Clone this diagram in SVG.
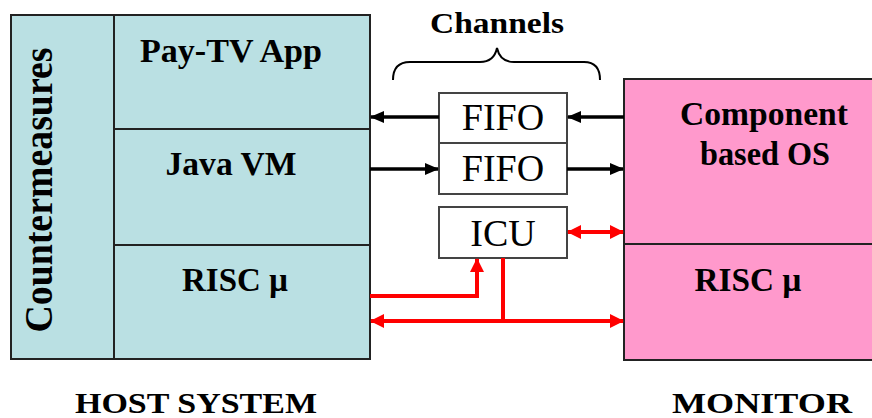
<svg xmlns="http://www.w3.org/2000/svg" width="872" height="418" viewBox="0 0 872 418">
<style>
.b{font-family:"Liberation Serif","Times New Roman",serif;font-weight:bold;fill:#000}
.r{font-family:"Liberation Serif","Times New Roman",serif;fill:#000}
.host{fill:#BAE0E3;stroke:#222;stroke-width:2}
.mon{fill:#FF99CC;stroke:#222;stroke-width:2}
.ch{fill:#fff;stroke:#444;stroke-width:2}
.bk{stroke:#000;stroke-width:3.5;fill:none}
.rd{stroke:#f00;stroke-width:4;fill:none}
</style>
<defs>
<marker id="ab" markerUnits="userSpaceOnUse" markerWidth="14" markerHeight="12" refX="13" refY="6" orient="auto-start-reverse"><path d="M0,0 L14,6 L0,12 Z" fill="#000"/></marker>
<marker id="ar" markerUnits="userSpaceOnUse" markerWidth="14" markerHeight="14" refX="13" refY="7" orient="auto-start-reverse"><path d="M0,0 L14,7 L0,14 Z" fill="#f00"/></marker>
</defs>
<rect width="872" height="418" fill="#fff"/>
<g id="host">
<rect class="host" x="11" y="15" width="359" height="344"/>
<line x1="114" y1="15" x2="114" y2="359" stroke="#222" stroke-width="2"/>
<line x1="114" y1="129" x2="370" y2="129" stroke="#222" stroke-width="2"/>
<line x1="114" y1="245" x2="370" y2="245" stroke="#222" stroke-width="2"/>
<text class="b" font-size="39" text-anchor="middle" transform="translate(52,190) rotate(-90)" textLength="285" lengthAdjust="spacingAndGlyphs">Countermeasures</text>
<text class="b" font-size="33" x="231" y="62" text-anchor="middle" textLength="182" lengthAdjust="spacingAndGlyphs">Pay-TV App</text>
<text class="b" font-size="33" x="231" y="175" text-anchor="middle" textLength="131" lengthAdjust="spacingAndGlyphs">Java VM</text>
<text class="b" font-size="33" x="235" y="291" text-anchor="middle" textLength="106" lengthAdjust="spacingAndGlyphs">RISC µ</text>
<text class="b" font-size="30" x="196" y="413" text-anchor="middle" textLength="242" lengthAdjust="spacingAndGlyphs">HOST SYSTEM</text>
</g>
<g id="monitor">
<rect class="mon" x="624" y="79" width="260" height="281"/>
<line x1="624" y1="244" x2="872" y2="244" stroke="#222" stroke-width="2"/>
<text class="b" font-size="33" x="764" y="125" text-anchor="middle" textLength="168" lengthAdjust="spacingAndGlyphs">Component</text>
<text class="b" font-size="33" x="765" y="165" text-anchor="middle" textLength="130" lengthAdjust="spacingAndGlyphs">based OS</text>
<text class="b" font-size="33" x="748" y="291" text-anchor="middle" textLength="107" lengthAdjust="spacingAndGlyphs">RISC µ</text>
<text class="b" font-size="30" x="762" y="413" text-anchor="middle" textLength="180" lengthAdjust="spacingAndGlyphs">MONITOR</text>
</g>
<g id="channels">
<text class="b" font-size="29" x="497" y="33" text-anchor="middle" textLength="134" lengthAdjust="spacingAndGlyphs">Channels</text>
<path d="M393,80 Q393,62 410,62 L480,62 Q494,62 497,48 Q500,62 514,62 L584,62 Q600,62 600,80" fill="none" stroke="#000" stroke-width="2"/>
</g>
<g id="fifo1">
<rect class="ch" x="439" y="93" width="128" height="50"/>
<text class="r" font-size="38" x="503" y="130" text-anchor="middle">FIFO</text>
</g>
<g id="fifo2">
<rect class="ch" x="439" y="143" width="128" height="51"/>
<text class="r" font-size="38" x="503" y="181" text-anchor="middle">FIFO</text>
</g>
<g id="icu">
<rect class="ch" x="439" y="207" width="128" height="51"/>
<text class="r" font-size="38" x="503" y="246" text-anchor="middle">ICU</text>
</g>
<g id="connectors">
<line class="bk" x1="439" y1="117" x2="371" y2="117" marker-end="url(#ab)"/>
<line class="bk" x1="624" y1="117" x2="568" y2="117" marker-end="url(#ab)"/>
<line class="bk" x1="370" y1="169" x2="438" y2="169" marker-end="url(#ab)"/>
<line class="bk" x1="567" y1="169" x2="623" y2="169" marker-end="url(#ab)"/>
<line class="rd" x1="568" y1="232" x2="623" y2="232" marker-start="url(#ar)" marker-end="url(#ar)"/>
<polyline class="rd" points="370,296 477,296 477,259" marker-end="url(#ar)"/>
<line class="rd" x1="503" y1="258" x2="503" y2="321"/>
<line class="rd" x1="371" y1="321" x2="623" y2="321" marker-start="url(#ar)" marker-end="url(#ar)"/>
</g>
</svg>
